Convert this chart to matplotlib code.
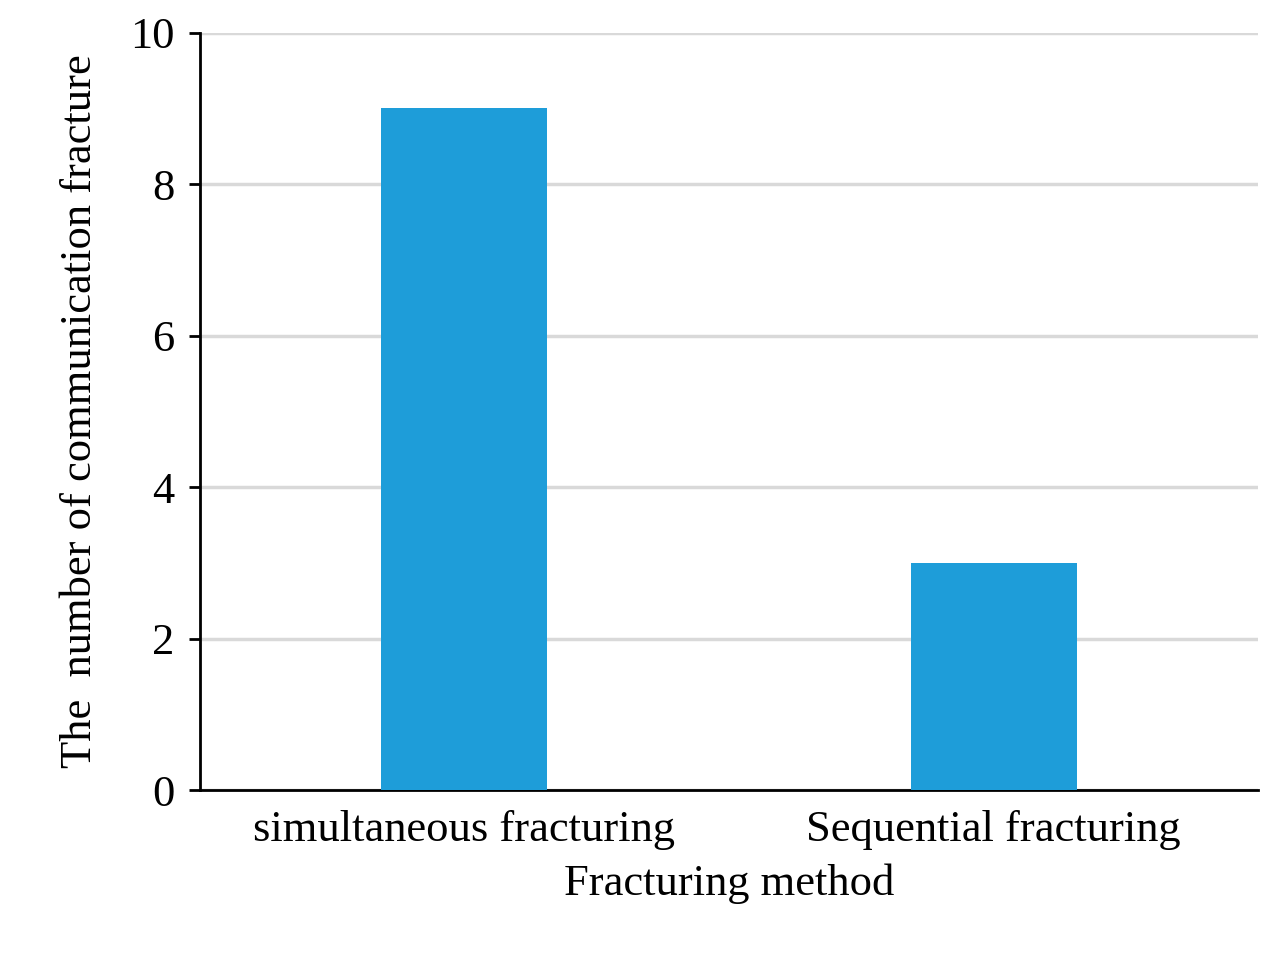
import matplotlib.pyplot as plt

methods = ["simultaneous fracturing", "Sequential fracturing"]
counts = [9, 3]

plt.rcParams['font.family'] = ['Liberation Serif', 'DejaVu Serif']

fig = plt.figure(figsize=(12.88, 9.6), dpi=100)
ax = fig.add_axes([0.155, 0.177, 0.822, 0.789])

ax.bar(range(len(methods)), counts, width=0.314, color="#1E9DD9", zorder=3)
ax.set_xlim(-0.5, 1.5)
ax.set_ylim(0, 10)
ax.set_yticks([0, 2, 4, 6, 8, 10])
ax.set_xticks(range(len(methods)))
ax.set_xticklabels(methods)
ax.grid(axis="y", color="#d9d9d9", linewidth=2.5, zorder=0)

for s in ["top", "right"]:
    ax.spines[s].set_visible(False)
ax.spines["left"].set_linewidth(2)
ax.spines["bottom"].set_linewidth(2)
ax.tick_params(axis="x", length=0, labelsize=32, pad=14)
ax.tick_params(axis="y", direction="out", length=8, width=2, labelsize=32, pad=10)

ax.set_xlabel("Fracturing method", fontsize=32, labelpad=10)
ax.set_ylabel("The  number of communication fracture", fontsize=32, labelpad=22)

fig.savefig("out.png", dpi=100)
